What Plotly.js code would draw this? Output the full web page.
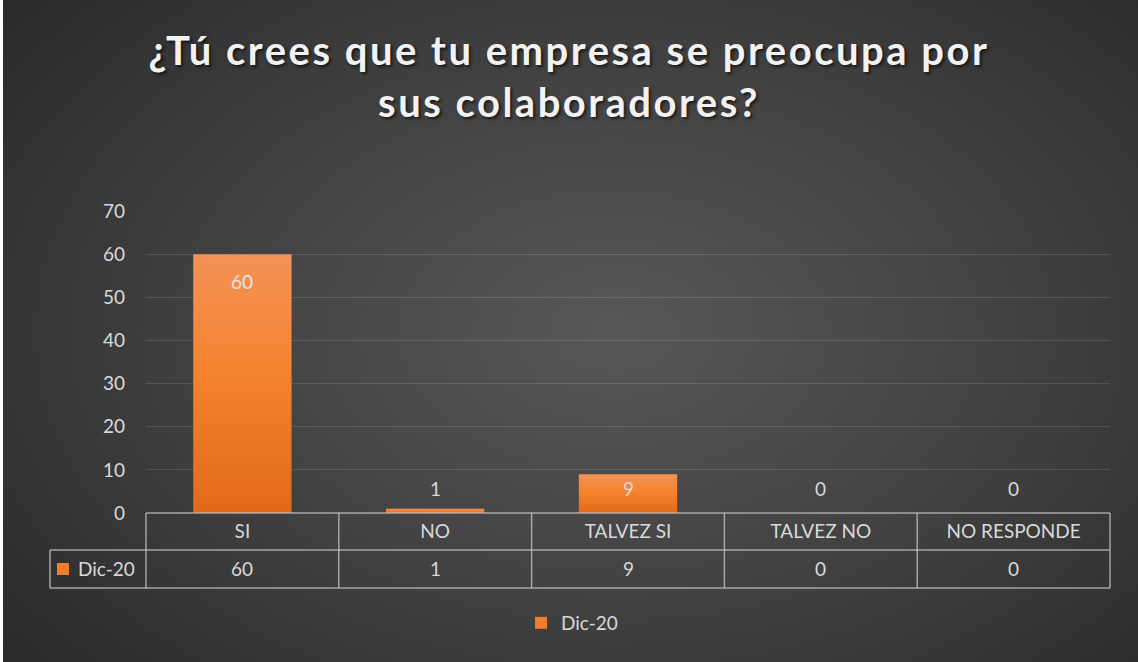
<!DOCTYPE html>
<html>
<head>
<meta charset="utf-8">
<script src="https://cdn.plot.ly/plotly-3.0.1.min.js"></script>
<style>
  html, body { margin: 0; padding: 0; background: #fff; }
  #chart {
    width: 1138px; height: 662px;
    background:
      linear-gradient(to right, #ffffff 0px, #ffffff 3px, rgba(0,0,0,0) 3px),
      radial-gradient(ellipse 75% 85% at 54% 50%, #585858 0%, #404040 50%, #262626 100%);
  }
  .gtitle { letter-spacing: 2.5px; }
</style>
</head>
<body>
<div id="chart"></div>
<script>
const categories = ['SI', 'NO', 'TALVEZ SI', 'TALVEZ NO', 'NO RESPONDE'];
const seriesName = 'Dic-20';
const values = [60, 1, 9, 0, 0];
const yTicks = [0, 10, 20, 30, 40, 50, 60, 70];
const titleText = '¿Tú crees que tu empresa se preocupa por<br>sus colaboradores?';

const W = 1138, H = 662;
const mL = 146, mR = 28, mT = 211, mB = 149;
const pw = W - mL - mR, ph = H - mT - mB;
const px = v => (v - mL) / pw;          // pixel x -> paper
const py = v => (H - mB - v) / ph;      // pixel y -> paper

const txtColor = '#d9d9d9';
const lineColor = 'rgba(200,200,200,0.75)';
const fontFam = 'Lato, "Open Sans", sans-serif';

const shapes = [];
const hl = (x0, x1, y) => shapes.push({type:'line', xref:'paper', yref:'paper', x0, x1, y0:y, y1:y, line:{color:lineColor, width:1.5}});
const vl = (x, y0, y1) => shapes.push({type:'line', xref:'paper', yref:'paper', x0:x, x1:x, y0, y1, line:{color:lineColor, width:1.5}});
const rowTop = py(513), rowMid = py(550), rowBot = py(588), legLeft = px(50);
hl(0, 1, rowTop);
hl(legLeft, 1, rowMid);
hl(legLeft, 1, rowBot);
for (let i = 0; i <= categories.length; i++) vl(i / categories.length, rowTop, rowBot);
vl(legLeft, rowMid, rowBot);
shapes.push({type:'rect', xref:'paper', yref:'paper', x0:px(57), x1:px(69), y0:py(575), y1:py(563),
  fillcolor:'#f07c2c', line:{width:0}});

const annotations = [];
values.forEach((v, i) => {
  annotations.push({x: categories[i], xref:'x', y: py(568), yref:'paper', text: String(v),
    showarrow:false, font:{family:fontFam, size:19, color:txtColor}, xanchor:'center', yanchor:'middle'});
  const big = v > 20;
  annotations.push({x: categories[i], xref:'x', y: big ? v : 0, yref:'y', text: String(v),
    showarrow:false, yshift: big ? -27 : 25, font:{family:fontFam, size:19, color: big ? '#e6e6e6' : txtColor},
    xanchor:'center', yanchor:'middle'});
});
annotations.push({x: px(76), xref:'paper', y: py(568), yref:'paper', text: seriesName, showarrow:false,
  xanchor:'left', yanchor:'middle', font:{family:fontFam, size:19, color:txtColor}});

const trace = {
  type: 'bar', x: categories, y: values, name: seriesName,
  marker: {color: '#f07c2c', line: {width: 0}},
  hoverinfo: 'x+y'
};

const layout = {
  width: W, height: H,
  margin: {l: mL, r: mR, t: mT, b: mB, pad: 0},
  paper_bgcolor: 'rgba(0,0,0,0)', plot_bgcolor: 'rgba(0,0,0,0)',
  bargap: 0.49,
  title: {
    text: titleText, xref: 'container', x: 0.5, xanchor: 'center',
    yref: 'container', y: 1 - 65 / H, yanchor: 'top',
    font: {family: 'Lato, "Open Sans", sans-serif', size: 40, weight: 'bold', color: '#f2f2f2',
      shadow: '2px 2px 3px rgba(0,0,0,0.6)'}
  },
  xaxis: {type: 'category', range: [-0.5, categories.length - 0.5], showgrid: false, zeroline: false,
    showline: false, ticks: '', ticklabelstandoff: 5, tickfont: {family: fontFam, size: 19, color: txtColor},
    fixedrange: true},
  yaxis: {range: [0, 70], tickvals: yTicks, showgrid: true, gridcolor: 'rgba(255,255,255,0.12)', gridwidth: 1,
    zeroline: false, showline: false, ticks: '', ticklabelstandoff: 20,
    tickfont: {family: fontFam, size: 19, color: txtColor}, fixedrange: true},
  showlegend: true,
  legend: {orientation: 'h', x: px(521), xanchor: 'left', y: py(623), yanchor: 'middle',
    font: {family: fontFam, size: 19, color: txtColor}, bgcolor: 'rgba(0,0,0,0)'},
  shapes, annotations
};

Plotly.newPlot('chart', [trace], layout, {displayModeBar: false, staticPlot: true}).then(gd => {
  const svg = gd.querySelector('.main-svg');
  const ns = 'http://www.w3.org/2000/svg';
  let defs = svg.querySelector('defs');
  if (!defs) { defs = document.createElementNS(ns, 'defs'); svg.insertBefore(defs, svg.firstChild); }
  const lg = document.createElementNS(ns, 'linearGradient');
  lg.setAttribute('id', 'barGrad'); lg.setAttribute('x1', '0'); lg.setAttribute('y1', '0');
  lg.setAttribute('x2', '0'); lg.setAttribute('y2', '1');
  [['0', '#f39257'], ['0.45', '#f4832f'], ['1', '#e2691a']].forEach(([o, c]) => {
    const s = document.createElementNS(ns, 'stop'); s.setAttribute('offset', o); s.setAttribute('stop-color', c); lg.appendChild(s);
  });
  defs.appendChild(lg);
  gd.querySelectorAll('.barlayer .point path').forEach(p => { p.style.fill = 'url(#barGrad)'; });
});
</script>
</body>
</html>
